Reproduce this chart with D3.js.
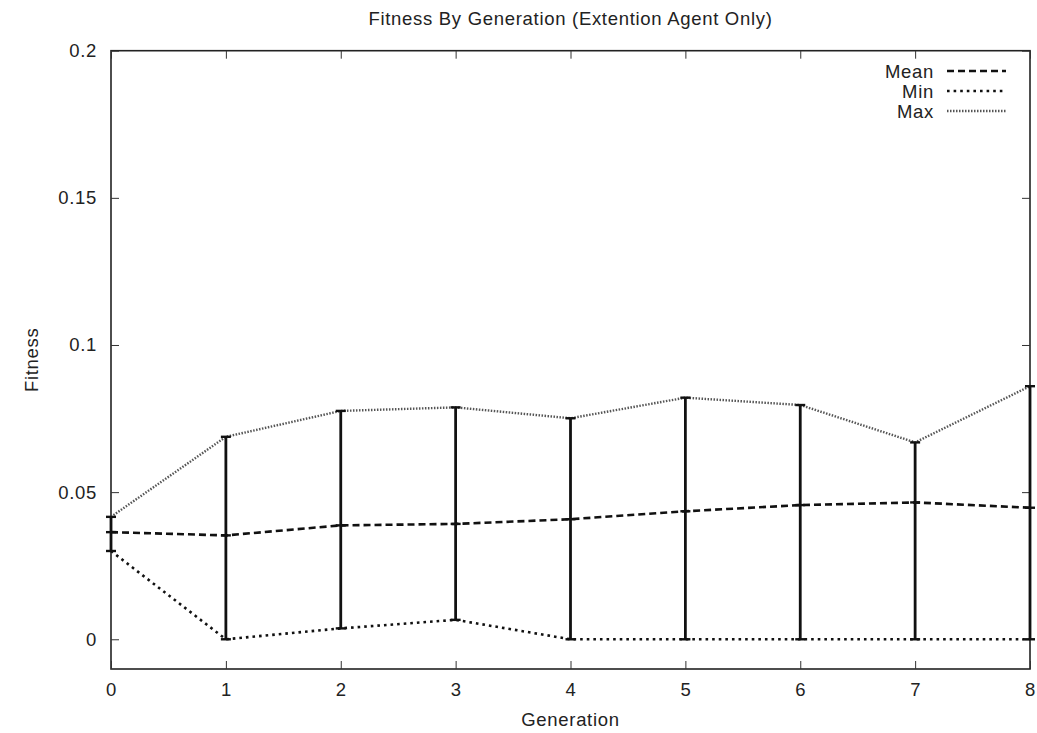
<!DOCTYPE html>
<html><head><meta charset="utf-8">
<script src="https://cdn.jsdelivr.net/npm/d3@7/dist/d3.min.js"></script>
<style>body{margin:0;background:#fff}svg{display:block}text{font-family:"Liberation Sans",Arial,sans-serif;fill:#222;letter-spacing:0.7px}</style>
</head><body><svg id="c" width="1037" height="733"></svg>
<script>
const generations = [0,1,2,3,4,5,6,7,8];
const meanVals = [0.0364,0.0353,0.0387,0.0392,0.0408,0.0435,0.0456,0.0465,0.0447];
const minVals  = [0.0300,0.0000,0.0037,0.0066,0.0000,0.0000,0.0000,0.0000,0.0000];
const maxVals  = [0.0416,0.0688,0.0776,0.0788,0.0751,0.0821,0.0796,0.0669,0.0860];
const yTicks = [0,0.05,0.1,0.15,0.2];
const yTickLabels = ["0","0.05","0.1","0.15","0.2"];
const xTickLabels = ["0","1","2","3","4","5","6","7","8"];

const svg = d3.select("#c");
const L=111, R=1030, T=50.7, B=669;
const FS=18.5;
const x = d3.scaleLinear().domain([0,8]).range([L,R]);
const y = d3.scaleLinear().domain([-0.0101,0.2]).range([B,T]);

svg.append("rect").attr("x",L).attr("y",T).attr("width",R-L).attr("height",B-T)
  .attr("fill","none").attr("stroke","#222").attr("stroke-width",1.6);

const tl=8;
svg.append("g").attr("transform",`translate(${L},0)`)
  .call(d3.axisLeft(y).tickValues(yTicks).tickFormat((d,i)=>yTickLabels[i]).tickSizeInner(-tl).tickSizeOuter(0).tickPadding(14))
  .call(g=>{g.select(".domain").remove();g.selectAll("text").attr("font-size",FS).attr("fill","#222").attr("font-family",null);g.selectAll("line").attr("stroke","#333");});
svg.append("g").attr("transform",`translate(${R},0)`)
  .call(d3.axisRight(y).tickValues(yTicks).tickFormat("").tickSizeInner(-tl).tickSizeOuter(0))
  .call(g=>{g.select(".domain").remove();g.selectAll("line").attr("stroke","#333");});
svg.append("g").attr("transform",`translate(0,${B})`)
  .call(d3.axisBottom(x).tickValues(generations).tickFormat((d,i)=>xTickLabels[i]).tickSizeInner(-tl).tickSizeOuter(0).tickPadding(14))
  .call(g=>{g.select(".domain").remove();g.selectAll("text").attr("font-size",FS).attr("fill","#222").attr("font-family",null);g.selectAll("line").attr("stroke","#333");});
svg.append("g").attr("transform",`translate(0,${T})`)
  .call(d3.axisTop(x).tickValues(generations).tickFormat("").tickSizeInner(-tl).tickSizeOuter(0))
  .call(g=>{g.select(".domain").remove();g.selectAll("line").attr("stroke","#333");});

svg.append("text").attr("x",(L+R)/2).attr("y",25).attr("text-anchor","middle").attr("font-size",FS).text("Fitness By Generation (Extention Agent Only)");
svg.append("text").attr("x",(L+R)/2).attr("y",726).attr("text-anchor","middle").attr("font-size",FS).text("Generation");
svg.append("text").attr("transform",`translate(38,${(T+B)/2}) rotate(-90)`).attr("text-anchor","middle").attr("font-size",FS).text("Fitness");

const styles = {
  mean:{stroke:"#111",w:2.6,dash:"7,4"},
  min:{stroke:"#111",w:2.6,dash:"2.6,4"},
  max:{stroke:"#555",w:2.4,dash:"1.5,1.5"}
};
const line = d3.line().x(d=>x(d[0])).y(d=>y(d[1]));
const series = [["mean",meanVals],["min",minVals],["max",maxVals]];
series.forEach(([k,vals])=>{
  const s=styles[k];
  svg.append("path").datum(generations.map((g,i)=>[g,vals[i]]))
    .attr("d",line).attr("fill","none").attr("stroke",s.stroke).attr("stroke-width",s.w).attr("stroke-dasharray",s.dash);
});

const eb = svg.append("g").attr("stroke","#111");
generations.forEach((g,i)=>{
  eb.append("line").attr("x1",x(g)).attr("x2",x(g)).attr("y1",y(minVals[i])).attr("y2",y(maxVals[i])).attr("stroke-width",2.8);
  [minVals[i],meanVals[i],maxVals[i]].forEach(v=>{
    eb.append("line").attr("x1",x(g)-5).attr("x2",x(g)+5).attr("y1",y(v)).attr("y2",y(v)).attr("stroke-width",2.4);
  });
});

const leg = [["Mean","mean"],["Min","min"],["Max","max"]];
leg.forEach(([lab,k],i)=>{
  const yy=71+i*20;
  svg.append("text").attr("x",934).attr("y",yy+7).attr("text-anchor","end").attr("font-size",FS).text(lab);
  const s=styles[k];
  svg.append("line").attr("x1",947).attr("x2",1006).attr("y1",yy).attr("y2",yy)
    .attr("stroke",s.stroke).attr("stroke-width",s.w).attr("stroke-dasharray",s.dash);
});
</script></body></html>
